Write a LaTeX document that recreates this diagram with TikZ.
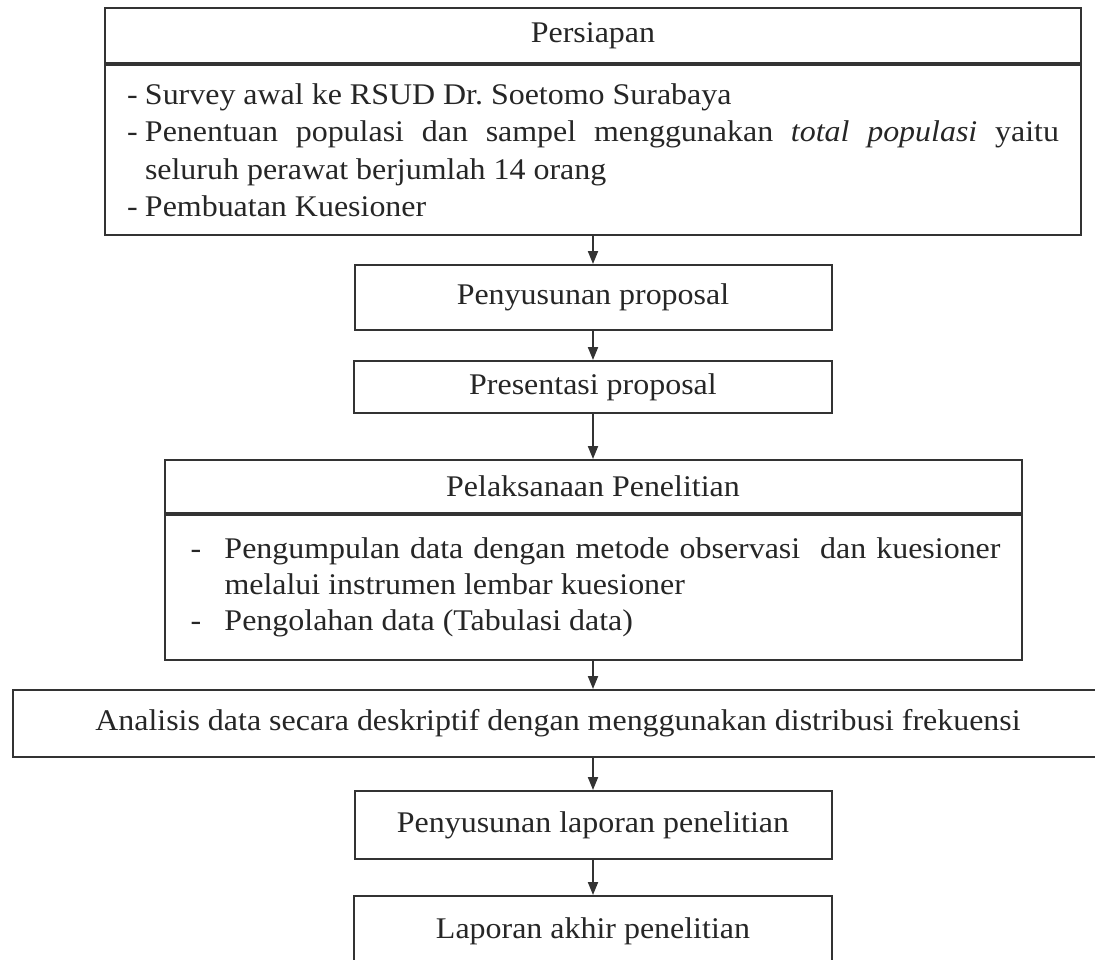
\documentclass[tikz,border=0pt]{standalone}
\usepackage{fontspec}
\setmainfont{Liberation Serif}[FakeStretch=1.065]
\usetikzlibrary{arrows.meta}

\begin{document}
\begin{tikzpicture}[
            x=1pt, y=-1pt,
            kotak/.style={
              draw=black!80,
              line width=2pt,
              text=black!85,
              font=\fontsize{30pt}{37.5pt}\selectfont,
              inner sep=0pt,
              align=center
            },
            isi/.style={
              kotak,
              align=left,
              inner xsep=22pt
            },
            panah/.style={
              draw=black!80,
              line width=2pt,
              -{Triangle[length=13pt,width=10pt]}
            }
        ]
\useasboundingbox (0,0) rectangle (1095,960);
\clip (0,0) rectangle (1095,960);

% persiapan
\node[kotak, minimum width=976pt, minimum height=55pt] (persiapan) at (593,35.5) {Persiapan};
\node[isi, text width=932pt, minimum height=170pt, anchor=north] (persiapanIsi) at (persiapan.south) {%
\spaceskip=0pt \xspaceskip=0pt
\makebox[18pt][l]{-}Survey awal ke RSUD Dr.\ Soetomo Surabaya\\
\makebox[18pt][l]{-}\makebox[914pt][s]{Penentuan populasi dan sampel menggunakan \textit{total populasi} yaitu}\\
\hspace*{18pt}seluruh perawat berjumlah 14 orang\\
\makebox[18pt][l]{-}Pembuatan Kuesioner};

% proposal
\node[kotak, minimum width=477pt, minimum height=65pt] (penyusunan) at (593,297.5) {Penyusunan proposal};
\node[kotak, minimum width=478pt, minimum height=52pt] (presentasi) at (593,387) {Presentasi proposal};

% pelaksanaan
\node[kotak, minimum width=857pt, minimum height=53pt] (pelaksanaan) at (593,486.5) {Pelaksanaan Penelitian};
\node[isi, inner xsep=26pt, text width=805pt, minimum height=145pt, anchor=north,
      font=\fontsize{30pt}{36pt}\selectfont] (pelaksanaanIsi) at (pelaksanaan.south) {%
\spaceskip=0pt \xspaceskip=0pt
\makebox[34pt][l]{-}\makebox[776pt][s]{Pengumpulan data dengan metode observasi\ \ dan kuesioner}\\
\hspace*{34pt}melalui instrumen lembar kuesioner\\
\makebox[34pt][l]{-}Pengolahan data (Tabulasi data)};

% analisis dan laporan
\node[kotak, minimum width=1090pt, minimum height=67pt] (analisis) at (558,723.5) {Analisis data secara deskriptif dengan menggunakan distribusi frekuensi};
\node[kotak, minimum width=477pt, minimum height=68pt] (laporan) at (593,825) {Penyusunan laporan penelitian};
\node[kotak, minimum width=478pt, inner ysep=21pt, text height=21pt, text depth=7pt, anchor=north] (akhir) at (593,895) {Laporan akhir penelitian};

\draw[panah] (persiapanIsi) -- (penyusunan);
\draw[panah] (penyusunan) -- (presentasi);
\draw[panah] (presentasi) -- (pelaksanaan);
\draw[panah] (pelaksanaanIsi.south) -- (pelaksanaanIsi.south |- analisis.north);
\draw[panah] (laporan.north |- analisis.south) -- (laporan);
\draw[panah] (laporan) -- (akhir);

\end{tikzpicture}
\end{document}
